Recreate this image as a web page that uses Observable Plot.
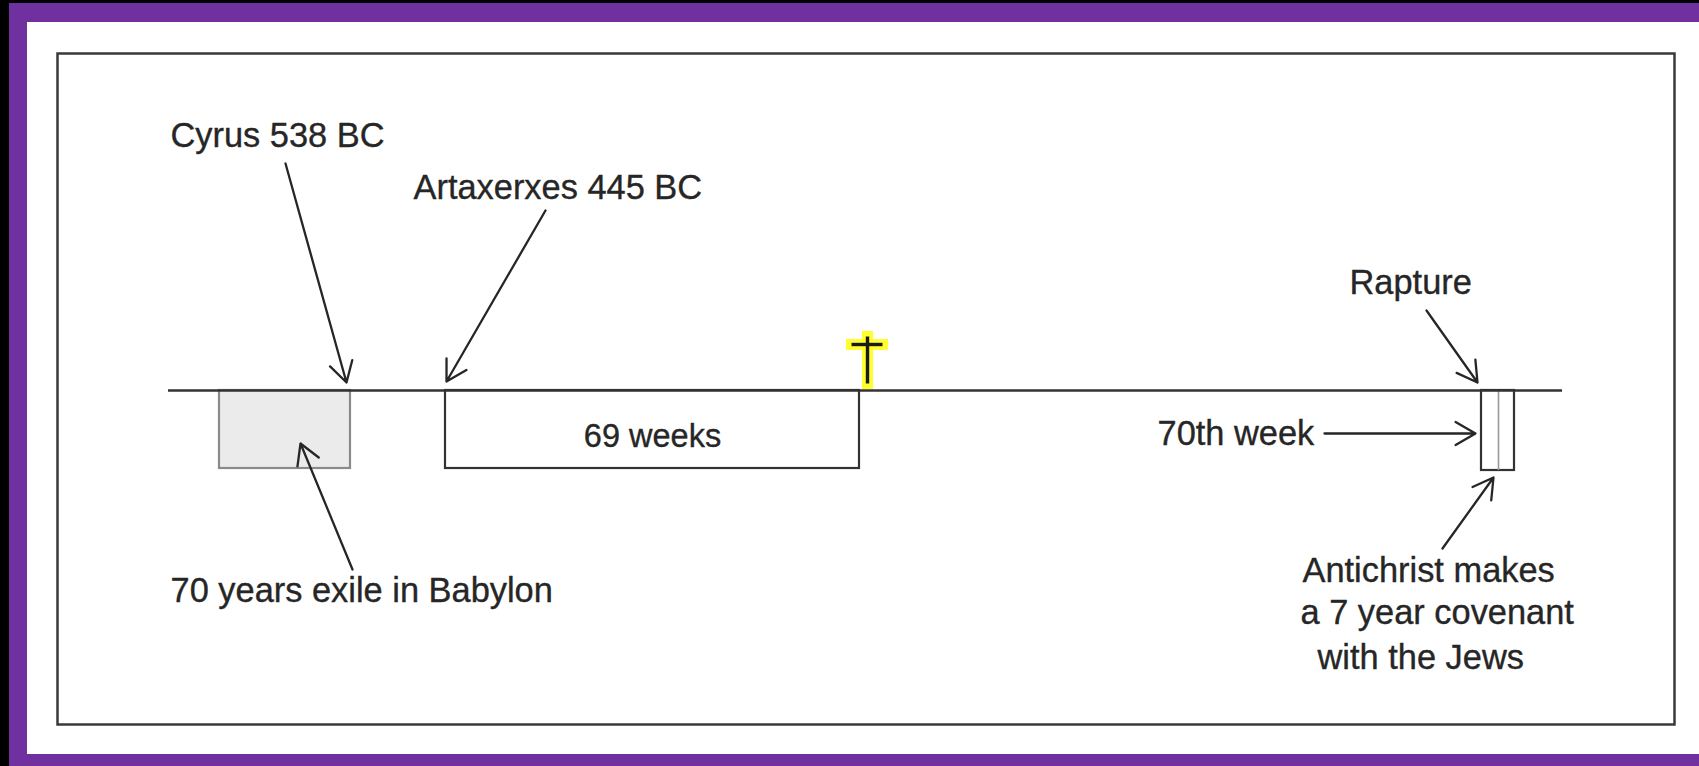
<!DOCTYPE html>
<html>
<head>
<meta charset="utf-8">
<script src="https://cdn.jsdelivr.net/npm/d3@7"></script>
<script src="https://cdn.jsdelivr.net/npm/@observablehq/plot@0.6"></script>
<style>
  html, body { margin: 0; padding: 0; background: #000; overflow: hidden; }
  #wrap { position: relative; width: 1699px; height: 766px; background: #000; }
  #purple { position: absolute; left: 9px; top: 3px; right: 0; bottom: 0; background: #7030a0; }
  #white { position: absolute; left: 27px; top: 22px; right: 0; bottom: 12px; background: #fff; }
  #chart { position: absolute; left: 0; top: 0; }
</style>
</head>
<body>
<div id="wrap"><div id="purple"></div><div id="white"></div><div id="chart"></div></div>
<script>
// ---- Schematic timeline data (diagram units) ----
const timelineStart = 168;
const timelineEnd = 1562;
const timelineY = 390;

const periodNames  = ["70 years exile in Babylon", "69 weeks", "70th week"];
const periodStart  = [219, 445, 1481];
const periodEnd    = [350, 859, 1514];
const periodBottom = [468, 468, 470];

const raptureSplit = 1498;   // rapture point inside the 70th week
const crossX = 867;          // crucifixion at the end of the 69 weeks

const labelText = ["Cyrus 538 BC", "Artaxerxes 445 BC", "70 years exile in Babylon", "Rapture", "70th week",
                   "Antichrist makes", "a 7 year covenant", "with the Jews"];
const labelX = [170, 413, 170, 1349, 1157, 1302, 1300, 1317];
const labelY = [135, 187, 590, 282, 433, 570, 612, 657];

const arrowFromX = [285, 545, 352, 1426, 1324, 1442];
const arrowFromY = [163, 210, 569, 310, 433, 548];
const arrowToX   = [346, 446, 300, 1477, 1475, 1493];
const arrowToY   = [382, 381, 443, 382, 433, 477];

// ---- Tables built from the arrays ----
const periods = periodNames.map((name, i) => ({name, start: periodStart[i], end: periodEnd[i], bottom: periodBottom[i]}));
const labels = labelText.map((text, i) => ({text, x: labelX[i], y: labelY[i]}));
const arrows = arrowFromX.map((x1, i) => ({x1, y1: arrowFromY[i], x2: arrowToX[i], y2: arrowToY[i]}));
const cross = [
  {x1: crossX, y1: 336, x2: crossX, y2: 383},
  {x1: crossX - 16, y1: 344, x2: crossX + 15, y2: 344}
];

const ink = "#262626";

const chart = Plot.plot({
  width: 1699,
  height: 766,
  marginLeft: 57, marginTop: 53, marginRight: 25, marginBottom: 42,
  x: {domain: [57, 1674], range: [57, 1674], axis: null},
  y: {domain: [53, 724], range: [53, 724], axis: null},
  style: {background: "transparent", fontFamily: "'Liberation Sans', Arial, sans-serif"},
  marks: [
    Plot.frame({stroke: "#3a3a3a", strokeWidth: 2.5}),
    Plot.rect(periods.filter(d => d.name.startsWith("70 years")), {
      x1: "start", x2: "end", y1: timelineY, y2: "bottom",
      fill: "#ebebeb", stroke: "#8a8a8a", strokeWidth: 2.2
    }),
    Plot.rect(periods.filter(d => !d.name.startsWith("70 years")), {
      x1: "start", x2: "end", y1: timelineY, y2: "bottom",
      fill: "#fff", stroke: "#333", strokeWidth: 2.2
    }),
    Plot.ruleX([raptureSplit], {y1: timelineY, y2: periodBottom[2], stroke: "#9a9a9a", strokeWidth: 1.6}),
    Plot.ruleY([timelineY], {x1: timelineStart, x2: timelineEnd, stroke: "#333", strokeWidth: 2.6}),
    Plot.link(cross, {x1: "x1", y1: "y1", x2: "x2", y2: "y2", stroke: "#ffff1a", strokeWidth: 11, strokeLinecap: "square", strokeOpacity: 0.9}),
    Plot.link(cross, {x1: "x1", y1: "y1", x2: "x2", y2: "y2", stroke: "#1a1a1a", strokeWidth: 3.4}),
    Plot.arrow(arrows, {x1: "x1", y1: "y1", x2: "x2", y2: "y2", stroke: ink, strokeWidth: 2.3, headLength: 15, headAngle: 60}),
    Plot.text(periods.filter(d => d.name === "69 weeks"), {
      x: d => (d.start + d.end) / 2, y: d => (timelineY + d.bottom) / 2 + 7, text: "name",
      fontSize: 32.5, fill: ink, stroke: ink, strokeWidth: 0.35
    }),
    Plot.text(labels, {x: "x", y: "y", text: "text", textAnchor: "start", fontSize: 34.4, fill: ink, stroke: ink, strokeWidth: 0.35})
  ]
});
document.getElementById("chart").appendChild(chart);
</script>
</body>
</html>
